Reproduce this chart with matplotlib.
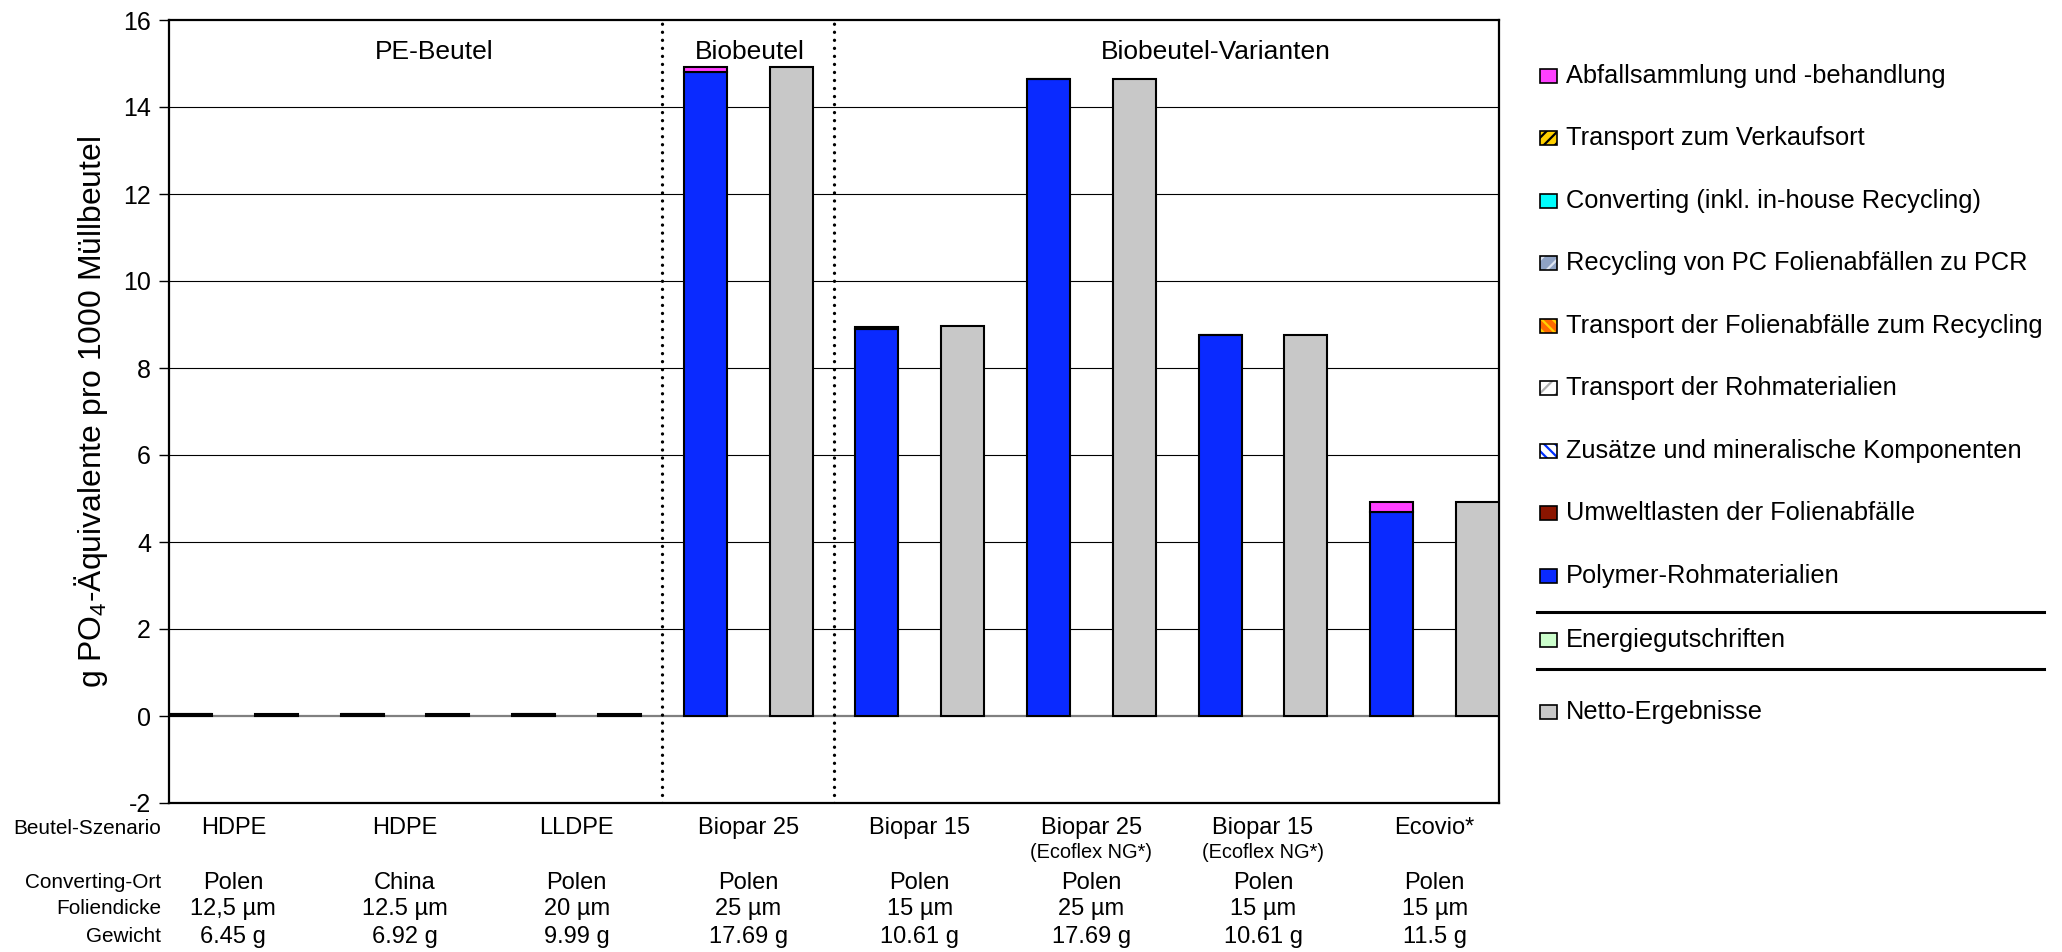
import matplotlib

matplotlib.use("Agg")
import matplotlib.pyplot as plt
import matplotlib.transforms as mtransforms
from matplotlib import font_manager
from matplotlib.lines import Line2D
from matplotlib.patches import Rectangle
import numpy as np

installed = {f.name for f in font_manager.fontManager.ttflist}
BASE = "Liberation Sans" if "Liberation Sans" in installed else "DejaVu Sans"
HAS_NARROW = "Liberation Sans Narrow" in installed
NARROW = "Liberation Sans Narrow" if HAS_NARROW else BASE
NS = 1.0 if HAS_NARROW else 0.85  # shrink sizes if we have no narrow face

plt.rcParams["font.family"] = [BASE, "DejaVu Sans"]
plt.rcParams["axes.unicode_minus"] = False
plt.rcParams["hatch.linewidth"] = 1.6

# ---- data -------------------------------------------------------------
scenarios = ["HDPE", "HDPE", "LLDPE", "Biopar 25", "Biopar 15", "Biopar 25", "Biopar 15", "Ecovio*"]
sub_labels = ["", "", "", "", "", "(Ecoflex NG*)", "(Ecoflex NG*)", ""]
converting = ["Polen", "China", "Polen", "Polen", "Polen", "Polen", "Polen", "Polen"]
thickness = ["12,5 µm", "12.5 µm", "20 µm", "25 µm", "15 µm", "25 µm", "15 µm", "15 µm"]
weight = ["6.45 g", "6.92 g", "9.99 g", "17.69 g", "10.61 g", "17.69 g", "10.61 g", "11.5 g"]
row_titles = ["Beutel-Szenario", "Converting-Ort", "Foliendicke", "Gewicht"]

groups = ["PE-Beutel", "Biobeutel", "Biobeutel-Varianten"]

# stacked contributions (bottom -> top), g PO4-eq per 1000 bags
polymer = [0.04, 0.04, 0.04, 14.80, 8.90, 14.65, 8.77, 4.69]
umweltlasten = [0.0, 0.0, 0.0, 0.0, 0.0, 0.0, 0.0, 0.0]
zusaetze = [0.0, 0.0, 0.0, 0.0, 0.0, 0.0, 0.0, 0.0]
transport_roh = [0.0, 0.0, 0.0, 0.0, 0.0, 0.0, 0.0, 0.0]
transport_abfall = [0.0, 0.0, 0.0, 0.0, 0.0, 0.0, 0.0, 0.0]
recycling_pcr = [0.0, 0.0, 0.0, 0.0, 0.0, 0.0, 0.0, 0.0]
converting_imp = [0.0, 0.0, 0.0, 0.0, 0.0, 0.0, 0.0, 0.0]
transport_verkauf = [0.0, 0.0, 0.0, 0.0, 0.0, 0.0, 0.0, 0.0]
abfallbehandlung = [0.0, 0.0, 0.0, 0.13, 0.05, 0.0, 0.0, 0.22]
energie = [0.0, 0.0, 0.0, 0.0, 0.0, 0.0, 0.0, 0.0]
netto = [0.04, 0.04, 0.04, 14.93, 8.96, 14.65, 8.77, 4.91]

# legend order (top -> bottom) with style: (label, face, hatch, hatch colour)
STYLES = {
    "abfall": ("Abfallsammlung und -behandlung", "#FF40FF", None, None),
    "verkauf": ("Transport zum Verkaufsort", "#FFD000", "///", "black"),
    "conv": ("Converting (inkl. in-house Recycling)", "#00FFFF", None, None),
    "pcr": ("Recycling von PC Folienabfällen zu PCR", "#8EA2C4", "//", "#DDE4F0"),
    "tabf": ("Transport der Folienabfälle zum Recycling", "#FF6A00", "\\\\\\", "#FFD000"),
    "troh": ("Transport der Rohmaterialien", "white", "//", "#B0B0B0"),
    "zus": ("Zusätze und mineralische Komponenten", "white", "\\\\\\", "#0030FF"),
    "umw": ("Umweltlasten der Folienabfälle", "#8B1500", None, None),
    "poly": ("Polymer-Rohmaterialien", "#0A2AFF", None, None),
    "energie": ("Energiegutschriften", "#CCFFCC", None, None),
    "netto": ("Netto-Ergebnisse", "#C8C8C8", None, None),
}
stack = [
    ("poly", polymer), ("umw", umweltlasten), ("zus", zusaetze), ("troh", transport_roh),
    ("tabf", transport_abfall), ("pcr", recycling_pcr), ("conv", converting_imp),
    ("verkauf", transport_verkauf), ("abfall", abfallbehandlung),
]

W, H = 2062, 952
fig = plt.figure(figsize=(W / 100, H / 100), dpi=100)
ax = fig.add_axes([169 / W, 1 - 803 / H, (1499 - 169) / W, (803 - 20) / H])

n = len(scenarios)
x_stack = np.arange(n) * 2
x_net = x_stack + 1
bw = 0.5
edge = dict(edgecolor="black", linewidth=1.5, zorder=3)

bottom = np.zeros(n)
for key, vals in stack:
    vals = np.asarray(vals, dtype=float)
    if not np.any(vals > 0):
        continue
    _, face, hatch, hcol = STYLES[key]
    ax.bar(x_stack, vals, bw, bottom=bottom, color=face, **edge)
    bottom += vals
ax.bar(x_net, netto, bw, color=STYLES["netto"][1], **edge)

ax.set_xlim(-0.25, 2 * n - 0.75)
ax.set_ylim(-2, 16)
ax.set_yticks(np.arange(-2, 17, 2))
ax.set_xticks([])
ax.tick_params(axis="y", direction="out", length=7, width=1, labelsize=18, pad=6)
for y in range(2, 16, 2):
    ax.axhline(y, color="black", linewidth=0.8, zorder=1)
ax.axhline(0, color="#808080", linewidth=1.6, zorder=1)
for s in ax.spines.values():
    s.set_linewidth(1.6)
    s.set_color("black")
for xv in (5.5, 7.5):
    ax.axvline(xv, color="black", linewidth=2.4, linestyle=(0, (0.01, 2.4)),
               dash_capstyle="round", zorder=2)

ax.set_ylabel("g PO$_{\\mathdefault{4}}$-Äquivalente pro 1000 Müllbeutel",
              family=[NARROW, "DejaVu Sans"], fontsize=27 * NS)
ax.yaxis.set_label_coords(-0.044, 0.5)

# group headings inside the plot
for label, gx in zip(groups, (2.84, 6.52, 11.95)):
    ax.text(gx, 15.26, label, ha="center", va="center", fontsize=19)

# table of scenario attributes under the axis
trans = mtransforms.blended_transform_factory(ax.transData, fig.transFigure)
cx = x_stack + 0.5
fy = lambda px: 1 - px / H
tfont = dict(family=[NARROW, "DejaVu Sans"], fontsize=20 * NS, ha="center", va="center")
rows_y = (828, 883, 909, 937)
for i in range(n):
    ax.text(cx[i], fy(rows_y[0]), scenarios[i], transform=trans, **tfont)
    if sub_labels[i]:
        ax.text(cx[i], fy(853), sub_labels[i], transform=trans,
                **{**tfont, "fontsize": 17 * NS})
    ax.text(cx[i], fy(rows_y[1]), converting[i], transform=trans, **tfont)
    ax.text(cx[i], fy(rows_y[2]), thickness[i], transform=trans, **tfont)
    ax.text(cx[i], fy(rows_y[3]), weight[i], transform=trans, **tfont)
for title, py in zip(row_titles, rows_y):
    fig.text(161 / W, fy(py), title, family=[NARROW, "DejaVu Sans"], fontsize=20 * NS * 0.88,
             ha="right", va="center")

# hand-built legend on the right
legend_keys = ["abfall", "verkauf", "conv", "pcr", "tabf", "troh", "zus", "umw", "poly",
               "energie", "netto"]
legend_y = [76, 138, 201, 263, 326, 388, 451, 513, 576, 640, 712]
for key, py in zip(legend_keys, legend_y):
    label, face, hatch, hcol = STYLES[key]
    x0, y0, w, h = 1540 / W, fy(py + 7), 17 / W, 14 / H
    if hatch:
        fig.add_artist(Rectangle((x0, y0), w, h, transform=fig.transFigure, facecolor=face,
                                 edgecolor=hcol, hatch=hatch, linewidth=0))
        fig.add_artist(Rectangle((x0, y0), w, h, transform=fig.transFigure, fill=False,
                                 edgecolor="black", linewidth=1.2))
    else:
        fig.add_artist(Rectangle((x0, y0), w, h, transform=fig.transFigure, facecolor=face,
                                 edgecolor="black", linewidth=1.2))
    fig.text(1566 / W, fy(py), label, fontsize=18.3, ha="left", va="center")
for py in (612, 669):
    fig.add_artist(Line2D([1537 / W, 2044 / W], [fy(py), fy(py)], color="black",
                          linewidth=2.2, transform=fig.transFigure))

fig.savefig("out.png", dpi=100)
